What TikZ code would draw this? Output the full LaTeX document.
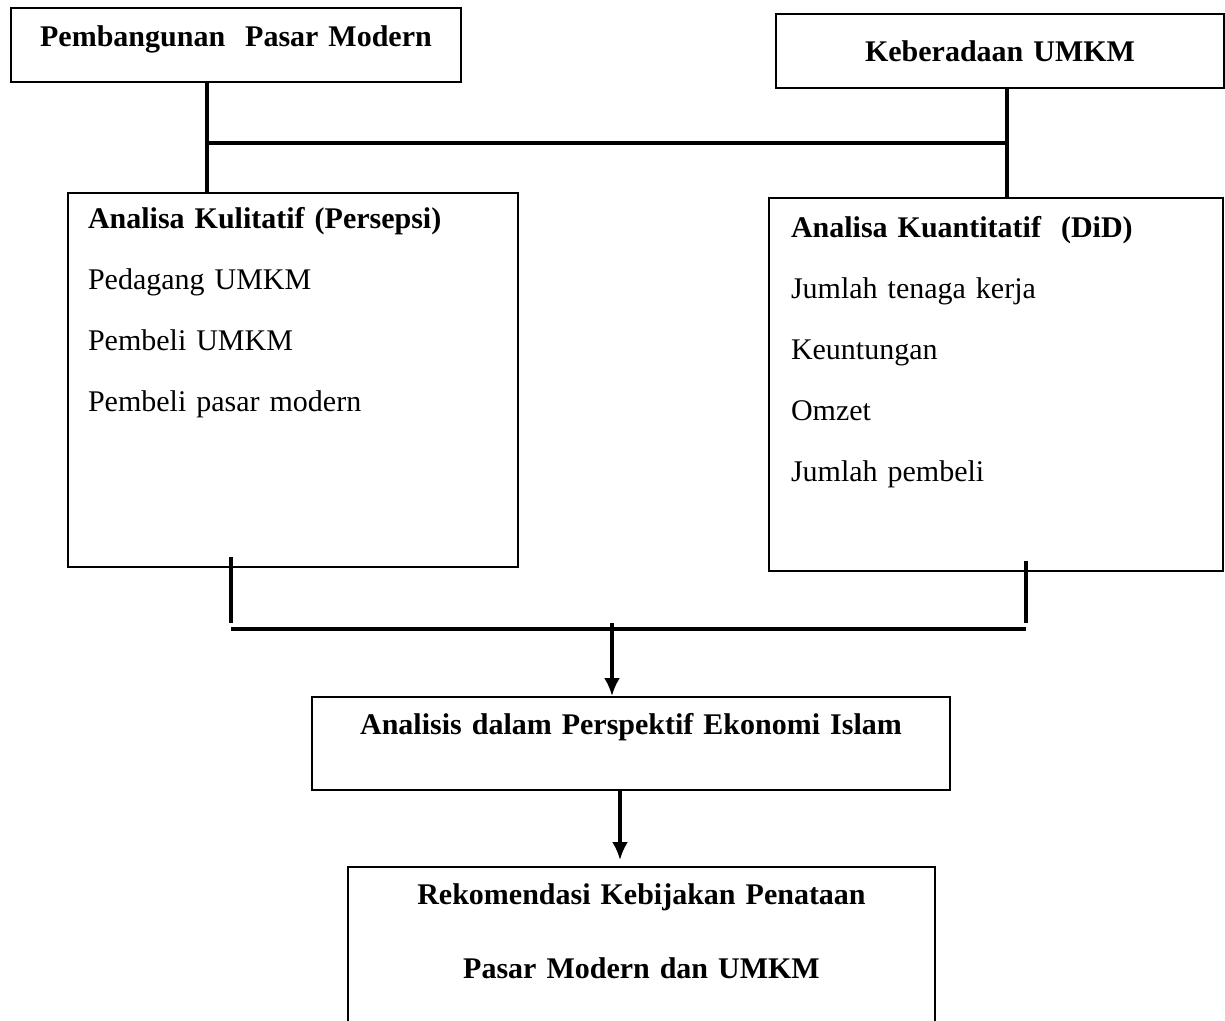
\documentclass[tikz,border=0pt]{standalone}
\usepackage{fontspec}
\setmainfont{Liberation Serif}
\usetikzlibrary{positioning,arrows.meta}
\tikzset{
  kotak/.style={draw, line width=1pt, inner ysep=0pt, inner xsep=10pt, anchor=north west,
    font=\fontsize{15}{18}\selectfont},
  daftar/.style={kotak, align=left, font=\fontsize{15}{30.5}\selectfont},
  judul/.style={kotak, align=center, font=\fontsize{15}{37}\selectfont\bfseries},
  garis/.style={line width=1.6pt},
  tebal/.style={line width=2pt},
  panah/.style={line width=1.6pt, -{Latex[length=9pt,width=8pt]}},
}
\begin{document}
\begin{tikzpicture}[x=0.5pt, y=-0.5pt]
  \useasboundingbox (0,0) rectangle (1225,1021);
  \node[judul, text width=205pt, text height=19.5pt, text depth=17.5pt] (pasar) at (10,7) {Pembangunan\ \ Pasar Modern};
  \node[judul, text width=204pt, text height=24pt, text depth=13pt] (umkm) at (775,13) {Keberadaan UMKM};
  \node[daftar, text width=205pt, text height=18pt, text depth=169pt] (kualitatif) at (67,192)
    {\textbf{Analisa Kulitatif (Persepsi)}\\ Pedagang UMKM\\ Pembeli UMKM\\ Pembeli pasar modern};
  \node[daftar, inner xsep=11pt, text width=205pt, text height=20pt, text depth=166.5pt] (kuantitatif) at (768,197)
    {\textbf{Analisa Kuantitatif\ \ (DiD)}\\ Jumlah tenaga kerja\\ Keuntungan\\ Omzet\\ Jumlah\ pembeli};
  \node[judul, text width=299pt, text height=18.5pt, text depth=28pt] (islam) at (311,696) {Analisis dalam Perspektif Ekonomi Islam};
  \node[judul, text width=273.5pt, text height=18.5pt, text depth=68.5pt] (rekomendasi) at (347,866)
    {Rekomendasi Kebijakan Penataan\\ Pasar Modern dan UMKM};

  \coordinate (tl) at (207,143);
  \coordinate (tr) at (1007,143);
  \draw[garis] (tl |- pasar.south) -- (tl) -- (tr) -- (tr |- umkm.south);
  \draw[garis] (tl) -- (tl |- kualitatif.north);
  \draw[garis] (tr) -- (tr |- kuantitatif.north);

  \coordinate (bl) at (231,629);
  \coordinate (br) at (1026,629);
  \coordinate (tengah) at (612,629);
  \foreach \c/\b in {bl/kualitatif, br/kuantitatif}
    \draw[garis] ([yshift=5.5pt]\c |- \b.south) -- ([yshift=3pt]\c);
  \draw[tebal] (bl) -- (br);
  \draw[panah] ([yshift=3pt]tengah) -- (tengah |- islam.north);
  \draw[panah, shorten >=3pt] ([xshift=4pt]tengah |- islam.south) -- ([xshift=4pt]tengah |- rekomendasi.north);
\end{tikzpicture}
\end{document}
